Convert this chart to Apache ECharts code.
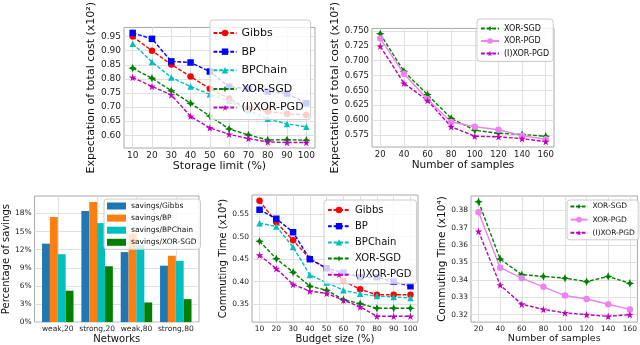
<!DOCTYPE html>
<html>
<head>
<meta charset="utf-8">
<script src="https://cdn.jsdelivr.net/npm/echarts@6/dist/echarts.min.js"></script>
<style>
  html, body { margin: 0; padding: 0; background: #fff; }
  #chart { width: 640px; height: 345px; }
</style>
</head>
<body>
<div id="chart"></div>
<script>
// panel 1: storage limit vs expected cost
var storageLimit = [10, 20, 30, 40, 50, 60, 70, 80, 90, 100];
var costGibbs   = [0.950, 0.900, 0.851, 0.808, 0.765, 0.730, 0.693, 0.684, 0.676, 0.672];
var costBP      = [0.963, 0.942, 0.862, 0.858, 0.826, 0.772, 0.765, 0.755, 0.748, 0.713];
var costBPChain = [0.925, 0.860, 0.805, 0.773, 0.745, 0.722, 0.688, 0.658, 0.640, 0.630];
var costXorSgd  = [0.838, 0.802, 0.758, 0.713, 0.668, 0.622, 0.601, 0.583, 0.584, 0.582];
var costIXorPgd = [0.805, 0.773, 0.743, 0.667, 0.626, 0.603, 0.588, 0.576, 0.574, 0.574];
var costTicks   = [0.60, 0.65, 0.70, 0.75, 0.80, 0.85, 0.90, 0.95];

// panel 2: number of samples vs expected cost
var samples = [20, 40, 60, 80, 100, 120, 140, 160];
var sampCostXorSgd  = [0.745, 0.682, 0.643, 0.603, 0.583, 0.578, 0.576, 0.573];
var sampCostXorPgd  = [0.737, 0.678, 0.635, 0.597, 0.589, 0.584, 0.574, 0.568];
var sampCostIXorPgd = [0.724, 0.662, 0.633, 0.589, 0.573, 0.572, 0.569, 0.564];
var sampCostTicks   = [0.575, 0.600, 0.625, 0.650, 0.675, 0.700, 0.725, 0.750];

// panel 3: percentage of savings
var networks    = ['weak,20', 'strong,20', 'weak,80', 'strong,80'];
var saveGibbs   = [13.0, 18.4, 11.6, 9.35];
var saveBP      = [17.4, 19.9, 14.7, 11.0];
var saveBPChain = [11.25, 16.4, 12.8, 10.15];
var saveXorSgd  = [5.2, 9.25, 3.25, 3.8];
var saveTicks   = [0, 3, 6, 9, 12, 15, 18];

// panel 4: budget size vs commuting time
var budget      = [10, 20, 30, 40, 50, 60, 70, 80, 90, 100];
var timeGibbs   = [0.580, 0.532, 0.492, 0.451, 0.430, 0.402, 0.383, 0.371, 0.371, 0.371];
var timeBP      = [0.560, 0.540, 0.510, 0.450, 0.430, 0.420, 0.410, 0.410, 0.400, 0.390];
var timeBPChain = [0.530, 0.523, 0.477, 0.415, 0.398, 0.381, 0.373, 0.368, 0.366, 0.364];
var timeXorSgd  = [0.490, 0.451, 0.421, 0.390, 0.381, 0.360, 0.351, 0.341, 0.341, 0.341];
var timeIXorPgd = [0.459, 0.429, 0.394, 0.379, 0.374, 0.359, 0.344, 0.323, 0.323, 0.323];
var timeTicks   = [0.35, 0.40, 0.45, 0.50, 0.55];

// panel 5: number of samples vs commuting time
var sampTimeXorSgd  = [0.385, 0.352, 0.343, 0.342, 0.341, 0.339, 0.342, 0.338];
var sampTimeXorPgd  = [0.379, 0.347, 0.341, 0.336, 0.331, 0.329, 0.326, 0.323];
var sampTimeIXorPgd = [0.368, 0.337, 0.326, 0.323, 0.321, 0.320, 0.319, 0.320];
var sampTimeTicks   = [0.32, 0.33, 0.34, 0.35, 0.36, 0.37, 0.38];

var FONT = 'DejaVu Sans';
var STAR = 'path://M50,0L61,35L98,35L68,57L79,91L50,70L21,91L32,57L2,35L39,35Z';
var CROSS = 'path://M4,0L5.2,2.8L8,4L5.2,5.2L4,8L2.8,5.2L0,4L2.8,2.8Z';

var styles = {
    'Gibbs':      { color: '#ff0000', symbol: 'circle', size: 6.5, dash: true },
    'BP':         { color: '#0000ff', symbol: 'rect', size: 6.5, dash: true },
    'BPChain':    { color: '#00bfbf', symbol: 'triangle', size: 6.5, dash: true },
    'XOR-SGD':    { color: '#008000', symbol: CROSS, size: 8.5, dash: true },
    'XOR-PGD':    { color: '#ee82ee', symbol: 'circle', size: 6.5, dash: false },
    '(I)XOR-PGD': { color: '#bf00bf', symbol: STAR, size: 7.5, dash: true }
};

// matplotlib style auto limits: 5% margin on each side
function pad(lists) {
    var all = [].concat.apply([], lists);
    var lo = Math.min.apply(null, all), hi = Math.max.apply(null, all);
    var r = (hi - lo) * 0.05;
    return [lo - r, hi + r];
}

function line(name, idx, xs, ys) {
    var s = styles[name];
    return {
        type: 'line', name: name, xAxisIndex: idx, yAxisIndex: idx,
        data: xs.map(function (x, i) { return [x, ys[i]]; }),
        symbol: s.symbol, symbolSize: s.size,
        lineStyle: { color: s.color, width: 1.4, type: s.dash ? [3.8, 1.8] : 'solid' },
        itemStyle: { color: s.color },
        z: 3
    };
}

var barColors = ['#1f77b4', '#ff7f0e', '#00bfbf', '#008000'];
var barNames = ['savings/Gibbs', 'savings/BP', 'savings/BPChain', 'savings/XOR-SGD'];
function bars(name, vals, color) {
    return {
        type: 'bar', name: name, xAxisIndex: 2, yAxisIndex: 2,
        data: vals.map(function (v, i) { return [i, v]; }),
        barWidth: '20%', barGap: '0%',
        itemStyle: { color: color }
    };
}

function xAxis(idx, range, ticks, fmt, fs, name, nfs, gap) {
    return {
        type: 'value', gridIndex: idx, min: range[0], max: range[1],
        axisLine: { show: false },
        axisTick: { show: false, customValues: ticks },
        axisLabel: { customValues: ticks, formatter: fmt, fontSize: fs, color: '#222', fontFamily: FONT, margin: 3 },
        splitLine: { show: true, lineStyle: { color: '#e0e0e0', width: 1 } },
        name: name, nameLocation: 'middle', nameGap: gap,
        nameTextStyle: { fontSize: nfs, color: '#111', fontFamily: FONT }
    };
}
function yAxis(idx, range, ticks, fmt, fs, name, nfs, gap) {
    var a = xAxis(idx, range, ticks, fmt, fs, name, nfs, gap);
    a.nameRotate = 90;
    return a;
}

var xCost = pad([storageLimit]);
var yCost = pad([costGibbs, costBP, costBPChain, costXorSgd, costIXorPgd]);
var xSamp = pad([samples]);
var ySampCost = pad([sampCostXorSgd, sampCostXorPgd, sampCostIXorPgd]);
var xNet = pad([[-0.4, networks.length - 1 + 0.4]]);
var ySave = [0, Math.max.apply(null, [].concat(saveGibbs, saveBP, saveBPChain, saveXorSgd)) * 1.05];
var xBudget = pad([budget]);
var yTime = pad([timeGibbs, timeBP, timeBPChain, timeXorSgd, timeIXorPgd]);
var ySampTime = pad([sampTimeXorSgd, sampTimeXorPgd, sampTimeIXorPgd]);

function fixed(n) { return function (v) { return v.toFixed(n); }; }
function intLabel(v) { return String(Math.round(v)); }

function legend(names, left, top, fs, iw, ih, spacing, padding, icon) {
    var l = {
        data: names, orient: 'vertical', left: left, top: top,
        itemWidth: iw, itemHeight: ih, itemGap: spacing - ih,
        padding: padding,
        backgroundColor: 'rgba(255,255,255,0.8)', borderColor: '#cccccc', borderWidth: 1, borderRadius: 3,
        textStyle: { fontSize: fs, color: '#111', fontFamily: FONT, lineHeight: ih },
        selectedMode: false
    };
    if (icon) l.icon = icon;
    return l;
}

var gridStyle = { show: true, borderColor: '#a8a8a8', borderWidth: 1, backgroundColor: 'transparent' };
function grid(left, top, width, height) {
    return Object.assign({ left: left, top: top, width: width, height: height }, gridStyle);
}

var option = {
    animation: false,
    backgroundColor: '#fff',
    grid: [
        grid(124, 17, 191, 131),
        grid(372, 16, 182, 131),
        grid(29, 196, 170, 129),
        grid(252, 195, 166, 129),
        grid(471, 196, 168, 128)
    ],
    xAxis: [
        xAxis(0, xCost, storageLimit, intLabel, 9, 'Storage limit (%)', 11, 10),
        xAxis(1, xSamp, samples, intLabel, 8.5, 'Number of samples', 10.5, 11),
        xAxis(2, xNet, [0, 1, 2, 3], function (v) { return networks[Math.round(v)]; }, 7.5, 'Networks', 10, 8.5),
        xAxis(3, xBudget, budget, intLabel, 7.5, 'Budget size (%)', 10, 7.5),
        xAxis(4, xSamp, samples, intLabel, 7.5, 'Number of samples', 9.5, 9)
    ],
    yAxis: [
        yAxis(0, yCost, costTicks, fixed(2), 9, 'Expectation of total cost (x10²)', 11, 22),
        yAxis(1, ySampCost, sampCostTicks, fixed(3), 8.5, 'Expectation of total cost (x10²)', 11, 29),
        yAxis(2, ySave, saveTicks, function (v) { return Math.round(v) + '%'; }, 7.5, 'Percentage of savings', 10, 17.5),
        yAxis(3, yTime, timeTicks, fixed(2), 7.5, 'Commuting Time (x10⁴)', 10, 18.5),
        yAxis(4, ySampTime, sampTimeTicks, fixed(2), 7.5, 'Commuting Time (x10⁴)', 10.5, 20)
    ],
    legend: [
        legend(['Gibbs', 'BP', 'BPChain', 'XOR-SGD', '(I)XOR-PGD'], 210, 20, 11, 23, 8, 15.65, [7.5, 7, 6.5, 2.5]),
        legend(['XOR-SGD', 'XOR-PGD', '(I)XOR-PGD'], 477, 19, 8, 18, 7, 11.5, [5.5, 4, 4, 3]),
        legend(barNames, 104, 199, 7.5, 19, 7, 11.1, [3, 4, 3, 3], 'rect'),
        legend(['Gibbs', 'BP', 'BPChain', 'XOR-SGD', '(I)XOR-PGD'], 324, 200, 10, 22, 8, 14.2, [5, 5, 4, 3]),
        legend(['XOR-SGD', 'XOR-PGD', '(I)XOR-PGD'], 567, 200, 7.5, 17, 7, 12.15, [2.5, 4, 3, 2.5])
    ],
    series: [
        line('Gibbs', 0, storageLimit, costGibbs),
        line('BP', 0, storageLimit, costBP),
        line('BPChain', 0, storageLimit, costBPChain),
        line('XOR-SGD', 0, storageLimit, costXorSgd),
        line('(I)XOR-PGD', 0, storageLimit, costIXorPgd),

        line('XOR-SGD', 1, samples, sampCostXorSgd),
        line('XOR-PGD', 1, samples, sampCostXorPgd),
        line('(I)XOR-PGD', 1, samples, sampCostIXorPgd),

        bars(barNames[0], saveGibbs, barColors[0]),
        bars(barNames[1], saveBP, barColors[1]),
        bars(barNames[2], saveBPChain, barColors[2]),
        bars(barNames[3], saveXorSgd, barColors[3]),

        line('Gibbs', 3, budget, timeGibbs),
        line('BP', 3, budget, timeBP),
        line('BPChain', 3, budget, timeBPChain),
        line('XOR-SGD', 3, budget, timeXorSgd),
        line('(I)XOR-PGD', 3, budget, timeIXorPgd),

        line('XOR-SGD', 4, samples, sampTimeXorSgd),
        line('XOR-PGD', 4, samples, sampTimeXorPgd),
        line('(I)XOR-PGD', 4, samples, sampTimeIXorPgd)
    ]
};

var myChart = echarts.init(document.getElementById('chart'), null, { renderer: 'canvas' });
myChart.setOption(option);
</script>
</body>
</html>
